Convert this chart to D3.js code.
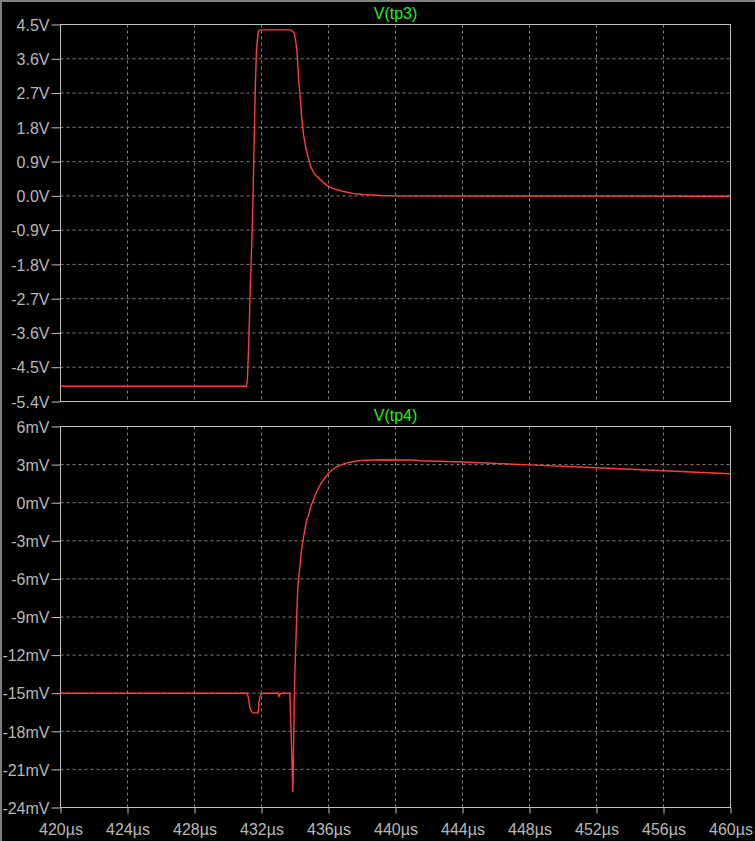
<!DOCTYPE html>
<html>
<head>
<meta charset="utf-8">
<script src="https://cdn.jsdelivr.net/npm/d3@7"></script>
<style>
  html, body { margin: 0; padding: 0; background: #000; }
  svg { display: block; }
  text { font-family: "Liberation Sans", Arial, sans-serif; }
</style>
</head>
<body>
<svg id="chart" width="755" height="841"></svg>
<script>
// ---- data ----
const timeTicks = [420, 424, 428, 432, 436, 440, 444, 448, 452, 456, 460];
const tp3Ticks = [4.5, 3.6, 2.7, 1.8, 0.9, 0.0, -0.9, -1.8, -2.7, -3.6, -4.5, -5.4];
const tp4Ticks = [6, 3, 0, -3, -6, -9, -12, -15, -18, -21, -24];

const tp3Time = [420, 431.10, 431.16, 431.22, 431.28, 431.34, 431.40, 431.46, 431.52, 431.58, 431.64, 431.70, 431.80, 431.90,
  433.73, 433.85, 433.97, 434.11, 434.17, 434.23, 434.29, 434.39, 434.51, 434.63, 434.76, 434.93, 435.12, 435.52, 435.92,
  436.32, 436.91, 437.51, 438.09, 439.10, 440, 460];
const tp3Volts = [-5.0, -5.0, -4.81, -4.11, -3.22, -2.25, -1.51, -0.69, 0.53, 1.87, 2.98, 3.82, 4.30, 4.36,
  4.36, 4.33, 4.26, 3.86, 3.40, 2.98, 2.70, 2.10, 1.60, 1.30, 1.05, 0.78, 0.60, 0.42, 0.27,
  0.185, 0.115, 0.06, 0.035, 0.01, 0.0, -0.01];

const tp4Time = [420, 431.15, 431.24, 431.30, 431.38, 431.48, 431.80, 431.84, 431.90, 431.98, 432.10,
  433.00, 433.04, 433.10, 433.16, 433.69, 433.73, 433.80, 433.87, 433.91, 433.95, 433.99,
  434.05, 434.11, 434.17, 434.23, 434.29, 434.37, 434.45, 434.53, 434.61, 434.69, 434.81, 434.93,
  435.04, 435.18, 435.33, 435.48, 435.64, 435.82, 436.02, 436.22, 436.52, 436.91, 437.31, 437.91,
  439.10, 441.00, 441.50, 444, 448, 452, 456, 460];
const tp4MilliVolts = [-15.0, -15.0, -15.5, -16.1, -16.4, -16.55, -16.55, -15.8, -15.3, -15.1, -15.0,
  -15.0, -15.25, -15.1, -15.0, -15.0, -16.6, -19.5, -22.8, -19.8, -16.0, -13.5,
  -11.1, -8.6, -6.65, -5.73, -5.08, -3.9, -3.24, -2.53, -1.98, -1.4, -1.0, -0.35,
  0.04, 0.51, 0.96, 1.35, 1.69, 2.0, 2.32, 2.59, 2.85, 3.06, 3.19, 3.32,
  3.38, 3.36, 3.30, 3.20, 2.98, 2.75, 2.51, 2.28];

// ---- layout ----
const svg = d3.select("#chart");
const AXIS = "#c0c0c0", TEXT = "#b8b8b8", GRID = "#808080", TRACE = "#ff3c3c", TITLE = "#22ee22";

svg.append("rect").attr("width", 755).attr("height", 841).attr("fill", "#000");
// window frame (top & left)
svg.append("line").attr("x1", 0).attr("x2", 755).attr("y1", 1).attr("y2", 1).attr("stroke", "#808080").attr("stroke-width", 2);
svg.append("line").attr("x1", 1).attr("x2", 1).attr("y1", 0).attr("y2", 841).attr("stroke", "#808080").attr("stroke-width", 2);

const x = d3.scaleLinear().domain([420, 460]).range([60.5, 730.5]);

function panel(cfg) {
  const y = d3.scaleLinear().domain([cfg.ticks[cfg.ticks.length - 1], cfg.ticks[0]]).range([cfg.bottom, cfg.top]);
  const g = svg.append("g");

  // grid
  g.append("g").selectAll("line").data(timeTicks.slice(1, -1)).join("line")
    .attr("x1", d => x(d)).attr("x2", d => x(d)).attr("y1", cfg.top).attr("y2", cfg.bottom)
    .attr("stroke", GRID).attr("stroke-dasharray", "3,3");
  g.append("g").selectAll("line").data(cfg.ticks.slice(1, -1)).join("line")
    .attr("x1", x(420)).attr("x2", x(460)).attr("y1", d => y(d)).attr("y2", d => y(d))
    .attr("stroke", GRID).attr("stroke-dasharray", "3,3");

  // y axis
  const ya = g.append("g").attr("transform", `translate(${x(420)},0)`)
    .call(d3.axisLeft(y).tickValues(cfg.ticks).tickFormat(cfg.fmt).tickSize(9).tickSizeOuter(0).tickPadding(2));
  ya.select(".domain").remove();
  ya.selectAll("line").attr("stroke", AXIS);
  ya.selectAll("text").attr("fill", TEXT).attr("font-size", 16)
    .attr("font-family", "'Liberation Sans', Arial, sans-serif").attr("dy", "0.36em");

  // x axis
  if (cfg.xLabels) {
    const xa = g.append("g").attr("transform", `translate(0,${cfg.bottom})`)
      .call(d3.axisBottom(x).tickValues(timeTicks).tickFormat(d => d + "µs").tickSize(6).tickSizeOuter(0).tickPadding(10));
    xa.select(".domain").remove();
    xa.selectAll("line").attr("stroke", AXIS);
    xa.selectAll("text").attr("fill", TEXT).attr("font-size", 16)
      .attr("font-family", "'Liberation Sans', Arial, sans-serif");
  }

  // frame
  g.append("rect").attr("x", x(420)).attr("y", cfg.top)
    .attr("width", x(460) - x(420)).attr("height", cfg.bottom - cfg.top)
    .attr("fill", "none").attr("stroke", AXIS);

  // title
  g.append("text").attr("x", (x(420) + x(460)) / 2).attr("y", cfg.titleY)
    .attr("text-anchor", "middle").attr("fill", TITLE).attr("font-size", 16).text(cfg.title);

  // trace
  const pts = cfg.t.map((t, i) => [t, cfg.v[i]]);
  g.append("path").datum(pts)
    .attr("fill", "none").attr("stroke", TRACE).attr("stroke-width", 1.4)
    .attr("d", d3.line().x(d => x(d[0])).y(d => y(d[1])));
}

panel({
  top: 24.5, bottom: 401.5, ticks: tp3Ticks,
  fmt: d => d.toFixed(1) + "V",
  title: "V(tp3)", titleY: 18.5, t: tp3Time, v: tp3Volts, xLabels: false
});
panel({
  top: 426.5, bottom: 807.5, ticks: tp4Ticks,
  fmt: d => d + "mV",
  title: "V(tp4)", titleY: 420.5, t: tp4Time, v: tp4MilliVolts, xLabels: true
});
</script>
</body>
</html>
